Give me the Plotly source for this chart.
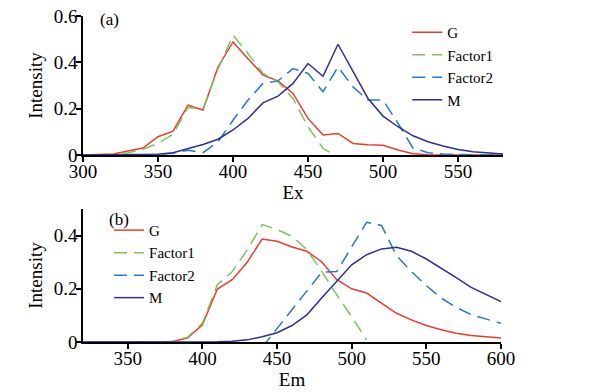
import plotly.graph_objects as go

# ---- data ----
ex_nm = [300, 310, 320, 330, 340, 350, 360, 370, 380, 390, 400, 410, 420, 430, 440,
         450, 460, 470, 480, 490, 500, 510, 520, 530, 540, 550, 560, 570, 580]
G_ex = [0, 0.001, 0.004, 0.017, 0.03, 0.079, 0.103, 0.215, 0.194, 0.38, 0.488, 0.416, 0.345, 0.32, 0.266,
        0.158, 0.086, 0.093, 0.05, 0.044, 0.042, 0.022, 0.005, 0.001, 0, 0, 0, 0, 0]
F1_ex = [0, 0, 0.002, 0.01, 0.025, 0.05, 0.09, 0.205, 0.2, 0.37, 0.517, 0.438, 0.352, 0.316, 0.244,
         0.122, 0.029, -0.01, None, None, None, None, None, None, None, None, None, None, None]
F2_ex = [0, 0, 0, 0, 0, 0.002, 0.008, 0.02, 0.01, 0.057, 0.15, 0.237, 0.309, 0.32, 0.373,
         0.352, 0.273, 0.38, 0.294, 0.237, 0.237, 0.137, 0.03, 0.01, 0.004, 0.002, 0.001, 0, 0]
M_ex = [0, 0, 0, 0, 0.001, 0.003, 0.01, 0.027, 0.045, 0.068, 0.108, 0.158, 0.225, 0.254, 0.309,
        0.395, 0.34, 0.478, 0.359, 0.244, 0.168, 0.122, 0.083, 0.057, 0.039, 0.024, 0.014, 0.008, 0.004]

em_nm = [320, 330, 340, 350, 360, 370, 380, 390, 400, 410, 420, 430, 440, 450, 460,
         470, 480, 490, 500, 510, 520, 530, 540, 550, 560, 570, 580, 590, 600]
G_em = [0, 0, 0, 0, 0, 0, 0.002, 0.015, 0.065, 0.199, 0.234, 0.30, 0.387, 0.379, 0.357,
        0.341, 0.301, 0.234, 0.2, 0.184, 0.147, 0.108, 0.083, 0.062, 0.046, 0.033, 0.024, 0.019, 0.015]
F1_em = [0, 0, 0, 0, 0, 0, 0.003, 0.018, 0.071, 0.215, 0.265, 0.346, 0.4415, 0.423, 0.397,
         0.347, 0.265, 0.177, 0.095, 0.0075, None, None, None, None, None, None, None, None, None]
F2_em = [None, None, None, None, None, None, None, None, None, None, None, None, -0.02, 0.05, 0.12,
         0.19, 0.263, 0.265, 0.357, 0.45, 0.438, 0.325, 0.265, 0.212, 0.165, 0.13, 0.103, 0.087, 0.07]
M_em = [0, 0, 0, 0, 0, 0, 0, 0, 0, 0.001, 0.003, 0.008, 0.02, 0.035, 0.062,
        0.102, 0.166, 0.23, 0.29, 0.328, 0.35, 0.356, 0.341, 0.312, 0.278, 0.242, 0.205, 0.178, 0.152]

names = ["G", "Factor1", "Factor2", "M"]
colors = ["#ee3b30", "#7dc45e", "#2a78cc", "#2e3192"]
dashes = ["solid", "13px,7px", "13px,7px", "solid"]

FONT = "Liberation Serif"

fig = go.Figure()
for ys, nm, c, d in zip([G_ex, F1_ex, F2_ex, M_ex], names, colors, dashes):
    fig.add_trace(go.Scatter(x=ex_nm, y=ys, mode="lines", name=nm, legend="legend",
                             line=dict(color=c, width=1.5, dash=d), xaxis="x", yaxis="y"))
for ys, nm, c, d in zip([G_em, F1_em, F2_em, M_em], names, colors, dashes):
    fig.add_trace(go.Scatter(x=em_nm, y=ys, mode="lines", name=nm, legend="legend2",
                             line=dict(color=c, width=1.5, dash=d), xaxis="x2", yaxis="y2"))

axis_common = dict(showline=True, linecolor="black", linewidth=1.5, ticks="outside",
                   ticklen=5, tickwidth=1.5, tickcolor="black", showgrid=False, zeroline=False,
                   automargin=False, ticklabeloverflow="allow",
                   tickfont=dict(family=FONT, size=19, color="black"))

fig.update_layout(
    template="none",
    width=593, height=384,
    margin=dict(l=75, r=98, t=8, b=50),
    paper_bgcolor="white", plot_bgcolor="white",
    font=dict(family=FONT, color="black"),
    xaxis=dict(domain=[0, 1], anchor="y", range=[300, 580], tick0=300, dtick=50,
               ticklabelstandoff=-7,
               title=dict(text="Ex", font=dict(family=FONT, size=19), standoff=0), **axis_common),
    yaxis=dict(domain=[0.5736, 1], anchor="x", range=[0, 0.6],
               tickvals=[0, 0.2, 0.4, 0.6], ticktext=["0", "0.2", "0.4", "0.6"],
               ticklabelstandoff=-5,
               title=dict(text="Intensity", font=dict(family=FONT, size=19), standoff=6), **axis_common),
    xaxis2=dict(domain=[0, 0.9952], anchor="y2", range=[320, 600], tick0=300, dtick=50,
                ticklabelstandoff=-7,
                title=dict(text="Em", font=dict(family=FONT, size=19), standoff=0), **axis_common),
    yaxis2=dict(domain=[0, 0.408], anchor="x2", range=[0, 0.5],
                tickvals=[0, 0.2, 0.4], ticktext=["0", "0.2", "0.4"],
                ticklabelstandoff=-5,
                title=dict(text="Intensity", font=dict(family=FONT, size=19), standoff=6), **axis_common),
    legend=dict(x=0.772, y=1.0, xanchor="left", yanchor="top", bgcolor="rgba(0,0,0,0)",
                font=dict(family=FONT, size=15, color="black"), tracegroupgap=0),
    legend2=dict(x=0.062, y=0.393, xanchor="left", yanchor="top", bgcolor="rgba(0,0,0,0)",
                 font=dict(family=FONT, size=15, color="black"), tracegroupgap=0),
    annotations=[
        dict(text="(a)", x=0.063, y=0.99, xref="paper", yref="paper", showarrow=False,
             xanchor="center", yanchor="middle",
             font=dict(family=FONT, size=17, color="black")),
        dict(text="(b)", x=0.0857, y=0.377, xref="paper", yref="paper", showarrow=False,
             xanchor="center", yanchor="middle",
             font=dict(family=FONT, size=17, color="black")),
    ],
)

fig.write_html("out.html")
